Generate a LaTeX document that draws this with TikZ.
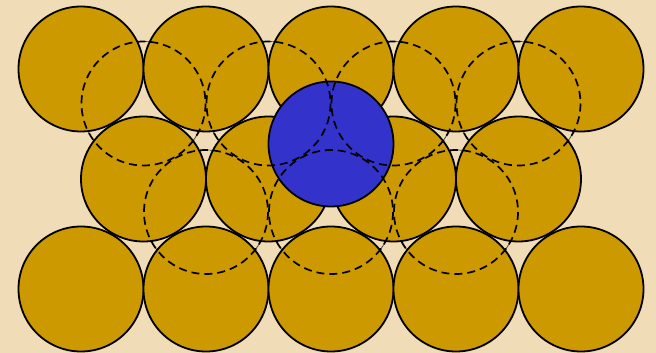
\documentclass[tikz,border=0pt]{standalone}
\usepackage{tikz}

\definecolor{parchment}{RGB}{240,220,182}
\definecolor{ballgold}{RGB}{204,153,0}
\definecolor{ballblue}{RGB}{51,51,204}

\begin{document}
\begin{tikzpicture}[x=1pt,y=-1pt,
    ball/.style={circle,draw=black,line width=1.8pt,fill=ballgold,
        minimum size=125pt,inner sep=0pt},
    site/.style={circle,draw=black!75,line width=0.7pt,
        minimum size=124pt,inner sep=0pt},
    hole dash/.style={black,line width=1.7pt,dash pattern=on 8pt off 5pt}]
    \fill[parchment] (0,0) rectangle (656,353);
    \useasboundingbox (0,0) rectangle (656,353);

    % sites of the next layer, under the balls
    \node[site] (u1) at (143.5,103.5) {};
    \node[site] (u2) at (268.5,103.5) {};
    \node[site] (u3) at (393.5,103.5) {};
    \node[site] (u4) at (518.5,103.5) {};
    \node[site] (l1) at (206,212) {};
    \node[site] (l2) at (331,212) {};
    \node[site] (l3) at (456,212) {};

    % first layer
    \node[ball] (a1) at (81,69) {};
    \node[ball] (a2) at (206,69) {};
    \node[ball] (a3) at (331,69) {};
    \node[ball] (a4) at (456,69) {};
    \node[ball] (a5) at (581,69) {};

    \node[ball] (b1) at (143.5,179) {};
    \node[ball] (b2) at (268.5,179) {};
    \node[ball] (b3) at (393.5,179) {};
    \node[ball] (b4) at (518.5,179) {};

    \node[ball] (c1) at (81,289) {};
    \node[ball] (c2) at (206,289) {};
    \node[ball] (c3) at (331,289) {};
    \node[ball] (c4) at (456,289) {};
    \node[ball] (c5) at (581,289) {};

    % the ball on top
    \node[ball,fill=ballblue] (top) at (331,144) {};

    % dashed outlines of the sites
    \draw[hole dash] (u1) circle (62);
    \draw[hole dash] (u2) circle (62);
    \draw[hole dash] (u3) circle (62);
    \draw[hole dash] (u4) circle (62);
    \draw[hole dash] (l1) circle (62);
    \draw[hole dash] (l2) circle (62);
    \draw[hole dash] (l3) circle (62);
\end{tikzpicture}
\end{document}
